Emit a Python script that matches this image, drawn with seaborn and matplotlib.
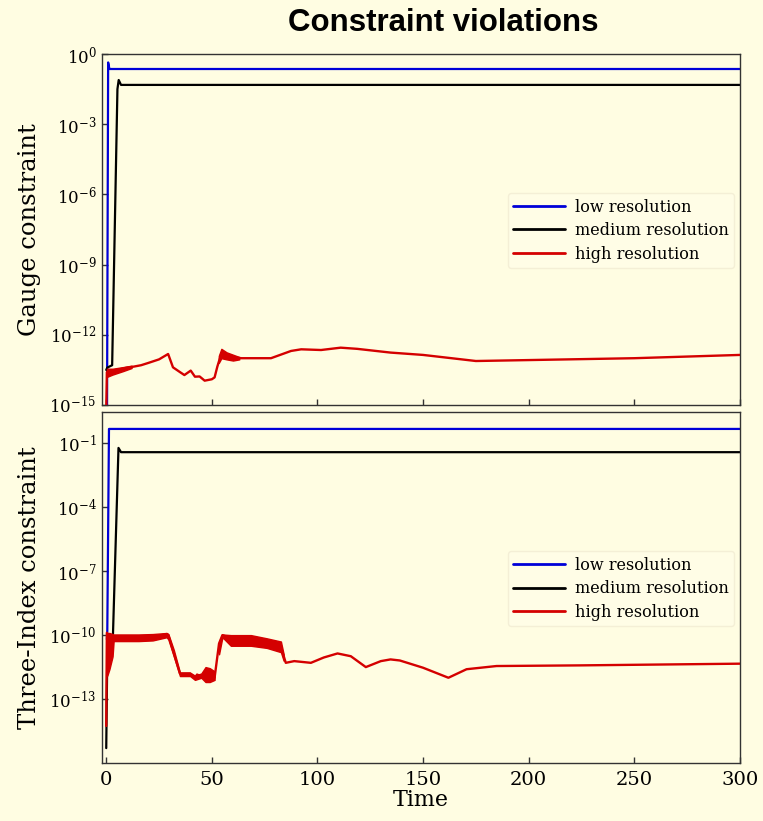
import numpy as np
import pandas as pd
import matplotlib
matplotlib.use('Agg')
import matplotlib.pyplot as plt
import seaborn as sns

# values are log10 of the constraint violation

# ---- Gauge constraint (top panel)
gauge_low_t = [0.35, 0.9, 1.5, 300]
gauge_low = [-16.0, -0.36, -0.64, -0.64]

gauge_med_t = [0.0, 0.5, 2.8, 5.3, 5.9, 7.0, 300]
gauge_med = [-13.5, -13.4, -13.3, -1.5, -1.11, -1.32, -1.32]

gauge_high_t = [0.0, 0.3, 1.0, 5, 10, 13, 16.5, 20, 25, 29.3, 31.6, 35, 37, 40, 42, 44.2,
                46.6, 50, 51.3, 52.6, 54.5, 59.3, 64, 68.7, 78, 87.5, 92.3, 101.7, 111,
                118.8, 134.6, 150, 175, 200, 250, 300]
gauge_high = [-15.2, -13.6, -13.55, -13.5, -13.4, -13.36, -13.3, -13.2, -13.05, -12.82,
              -13.39, -13.6, -13.72, -13.53, -13.79, -13.78, -13.96, -13.9, -13.82,
              -13.36, -12.8, -12.95, -13.0, -13.0, -13.0, -12.69, -12.62, -12.65, -12.55,
              -12.6, -12.76, -12.86, -13.12, -13.08, -13.0, -12.86]

# oscillating (thick) parts of the high resolution curve: two segments
gauge_band1_t = [0.3, 3, 8, 12]
gauge_band1_lo = [-13.8, -13.7, -13.55, -13.42]
gauge_band1_hi = [-13.45, -13.45, -13.38, -13.32]
gauge_band2_t = [53.3, 54.5, 57, 60, 63]
gauge_band2_lo = [-13.2, -13.0, -13.05, -13.1, -13.05]
gauge_band2_hi = [-12.9, -12.6, -12.75, -12.85, -12.95]

# ---- Three-Index constraint (bottom panel)
index_low_t = [0.3, 0.5, 1.3, 300]
index_low = [-10.2, -9.8, -0.33, -0.33]

index_med_t = [0.0, 0.6, 1.5, 3.0, 5.8, 7.0, 300]
index_med = [-15.3, -10.0, -10.1, -10.6, -1.22, -1.42, -1.42]

index_high_t = [0.0, 0.3, 2, 8, 15, 22, 28.6, 29.4, 34.9, 39.7, 42, 43, 45.3, 47, 49,
                51.3, 53.4, 55, 59, 68.5, 76, 82.7, 85, 89, 96.9, 103, 109.5, 115.8,
                122.9, 130, 134.6, 139, 150, 162, 170.6, 184.8, 224, 300]
index_high = [-14.26, -9.89, -10.3, -10.15, -10.15, -10.1, -9.95, -10.0, -11.8, -11.8,
              -12.0, -11.85, -11.95, -11.8, -11.9, -12.0, -10.4, -10.0, -10.15, -10.25,
              -10.35, -10.55, -11.3, -11.22, -11.3, -11.05, -10.86, -10.99, -11.5, -11.22,
              -11.14, -11.19, -11.53, -12.0, -11.6, -11.45, -11.42, -11.34]

index_band1_t = [0.5, 1.5, 3.0, 3.5, 10, 15.3, 22, 28.6, 29.4, 32, 34.9, 39.7, 42, 45,
                 47, 49, 51.3]
index_band1_lo = [-11.9, -11.6, -11.0, -10.28, -10.28, -10.28, -10.25, -10.1, -10.2, -11.0,
                  -11.92, -11.92, -12.1, -12.0, -12.2, -12.2, -12.1]
index_band1_hi = [-9.9, -9.9, -9.95, -9.97, -9.97, -9.97, -9.95, -9.9, -9.95, -10.7,
                  -11.76, -11.76, -11.9, -11.8, -11.5, -11.55, -11.7]
index_band2_t = [53.4, 55, 59, 68.5, 76, 82.7, 84]
index_band2_lo = [-10.9, -10.1, -10.5, -10.5, -10.6, -10.8, -11.2]
index_band2_hi = [-10.3, -9.97, -10.0, -10.0, -10.15, -10.3, -10.9]

x_ticks = [0, 50, 100, 150, 200, 250, 300]
gauge_yticks = [1e0, 1e-3, 1e-6, 1e-9, 1e-12, 1e-15]
index_yticks = [1e-1, 1e-4, 1e-7, 1e-10, 1e-13]

bg = '#fffde2'
c_low, c_med, c_high = '#0000d8', '#000000', '#d40000'

sns.set_theme(style='ticks')
plt.rcParams['font.family'] = ['DejaVu Serif']
plt.rcParams['mathtext.fontset'] = 'dejavuserif'
plt.rcParams['axes.edgecolor'] = '#333333'
plt.rcParams['axes.linewidth'] = 1.0
for k in ['text.color', 'axes.labelcolor', 'xtick.color', 'ytick.color']:
    plt.rcParams[k] = 'black'

fig = plt.figure(figsize=(7.63, 8.21), dpi=100, facecolor=bg)
ax1 = fig.add_axes([0.1337, 0.5067, 0.836, 0.4275], facecolor=bg)
ax2 = fig.add_axes([0.1337, 0.0706, 0.836, 0.4272], facecolor=bg)


def draw(ax, lo_t, lo, med_t, med, hi_t, hi, bands):
    sns.lineplot(x=lo_t, y=10.0 ** np.array(lo), ax=ax, color=c_low, lw=1.6,
                 label='low resolution', estimator=None, sort=False)
    sns.lineplot(x=med_t, y=10.0 ** np.array(med), ax=ax, color=c_med, lw=1.6,
                 label='medium resolution', estimator=None, sort=False)
    for bt, blo, bhi in bands:
        ax.fill_between(bt, 10.0 ** np.array(blo), 10.0 ** np.array(bhi),
                        color=c_high, lw=1.0, zorder=3)
    sns.lineplot(x=hi_t, y=10.0 ** np.array(hi), ax=ax, color=c_high, lw=1.7,
                 label='high resolution', estimator=None, sort=False, zorder=3)
    ax.set_yscale('log')
    ax.set_xlim(-2, 300)
    ax.set_xticks(x_ticks)
    ax.tick_params(direction='in', length=4, width=1, color='#333333')
    ax.tick_params(axis='x', labelsize=14, pad=6)
    ax.tick_params(axis='y', labelsize=12, pad=4)
    ax.minorticks_off()
    leg = ax.legend(loc='upper left', bbox_to_anchor=(0.636, 0.604), borderaxespad=0,
                    fontsize=11.6, handlelength=3.2, labelspacing=0.4, handletextpad=0.6,
                    frameon=True, facecolor='#fffde6', edgecolor='#f4efd6', framealpha=1,
                    fancybox=True, borderpad=0.35)
    for line in leg.get_lines():
        line.set_linewidth(2.0)
    ax.set_xlabel('')


draw(ax1, gauge_low_t, gauge_low, gauge_med_t, gauge_med, gauge_high_t, gauge_high,
     [(gauge_band1_t, gauge_band1_lo, gauge_band1_hi),
      (gauge_band2_t, gauge_band2_lo, gauge_band2_hi)])
ax1.set_ylim(1e-15, 1e0)
ax1.set_yticks(gauge_yticks)
ax1.minorticks_off()
ax1.tick_params(axis='x', labelbottom=False)
ax1.set_ylabel('Gauge constraint', fontsize=17.5, labelpad=6)

draw(ax2, index_low_t, index_low, index_med_t, index_med, index_high_t, index_high,
     [(index_band1_t, index_band1_lo, index_band1_hi),
      (index_band2_t, index_band2_lo, index_band2_hi)])
ax2.set_ylim(1e-16, 10 ** 0.45)
ax2.set_yticks(index_yticks)
ax2.minorticks_off()
ax2.set_xlabel('Time', fontsize=16, labelpad=0)
ax2.set_ylabel('Three-Index constraint', fontsize=17.5, labelpad=6)

fig.text(0.581, 0.972, 'Constraint violations', ha='center', va='center',
         fontsize=22.5, fontweight='bold', family='Liberation Sans', color='black')

fig.savefig('out.png', dpi=100, facecolor=bg)
